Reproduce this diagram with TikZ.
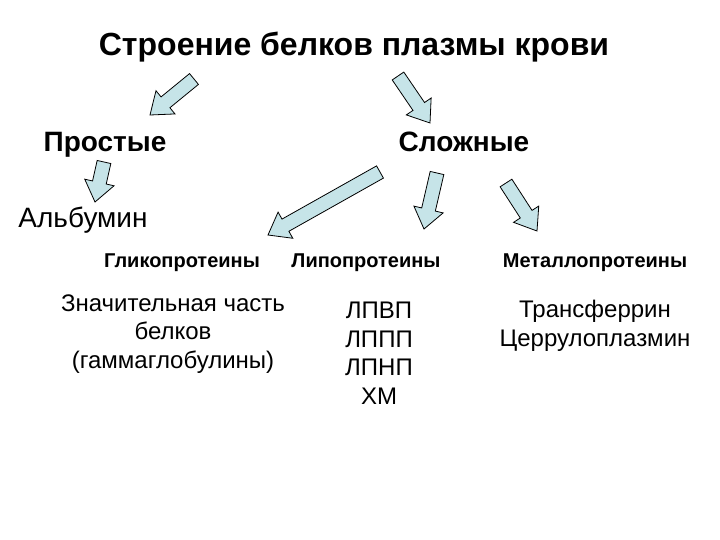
\documentclass[tikz,border=0pt]{standalone}
\usepackage{fontspec}
\setmainfont{Liberation Sans}
\usetikzlibrary{calc}
\definecolor{arrowfill}{RGB}{198,228,232}
\tikzset{
  blockarrow/.style={draw=black, fill=arrowfill, line width=0.8pt, line join=miter},
  bigtitle/.style={font=\fontsize{32}{36}\selectfont\bfseries},
  kind/.style={font=\fontsize{28}{32}\selectfont\bfseries, anchor=base},
  group/.style={font=\fontsize{20}{24}\selectfont\bfseries, anchor=base},
  body/.style={font=\fontsize{24}{28.5}\selectfont, align=center}
}
% block arrow from tail centre #1 to tip #2
\newcommand{\blockarrow}[2]{%
  \coordinate (ba-m) at ($(#2)!20pt!(#1)$);
  \draw[blockarrow] ($(#1)!7pt!90:(#2)$) -- ($(ba-m)!7pt!-90:(#1)$)
    -- ($(ba-m)!15pt!-90:(#1)$) -- (#2) -- ($(ba-m)!15pt!90:(#1)$)
    -- ($(ba-m)!7pt!90:(#1)$) -- ($(#1)!7pt!-90:(#2)$) -- cycle;}
\begin{document}
\begin{tikzpicture}[x=1pt, y=-1pt]
  \useasboundingbox (0,0) rectangle (720,540);
  \path
  (354,47) node[bigtitle] (title) {Строение белков плазмы крови}
  (105,152) node[kind] (simple) {Простые}
  (464,152) node[kind] (complex) {Сложные}
  (83,227) node[font=\fontsize{28}{32}\selectfont, anchor=base] (albumin) {Альбумин}
  (182,267) node[group] (glyco) {Гликопротеины}
  (366,267) node[group] (lipo) {Липопротеины}
  (595,267) node[group] (metallo) {Металлопротеины}
  (173,334) node[body] (glycotext) {Значительная часть\\белков\\(гаммаглобулины)}
  (379,353) node[body] (lipotext) {ЛПВП\\ЛППП\\ЛПНП\\ХМ}
  (595,326) node[body] (metallotext) {Трансферрин\\Церрулоплазмин}
  ;
  % arrow ends
  \coordinate (t1) at (194,79);  \coordinate (h1) at (150,115);
  \coordinate (t2) at (398,76);  \coordinate (h2) at (430,123);
  \coordinate (t3) at (104,162); \coordinate (h3) at (95,202);
  \coordinate (t4) at (380,172); \coordinate (h4) at (268,235);
  \coordinate (t5) at (437,173); \coordinate (h5) at (424,229);
  \coordinate (t6) at (506,183); \coordinate (h6) at (537,231);
  \blockarrow{t1}{h1}
  \blockarrow{t2}{h2}
  \blockarrow{t3}{h3}
  \blockarrow{t4}{h4}
  \blockarrow{t5}{h5}
  \blockarrow{t6}{h6}
\end{tikzpicture}
\end{document}
